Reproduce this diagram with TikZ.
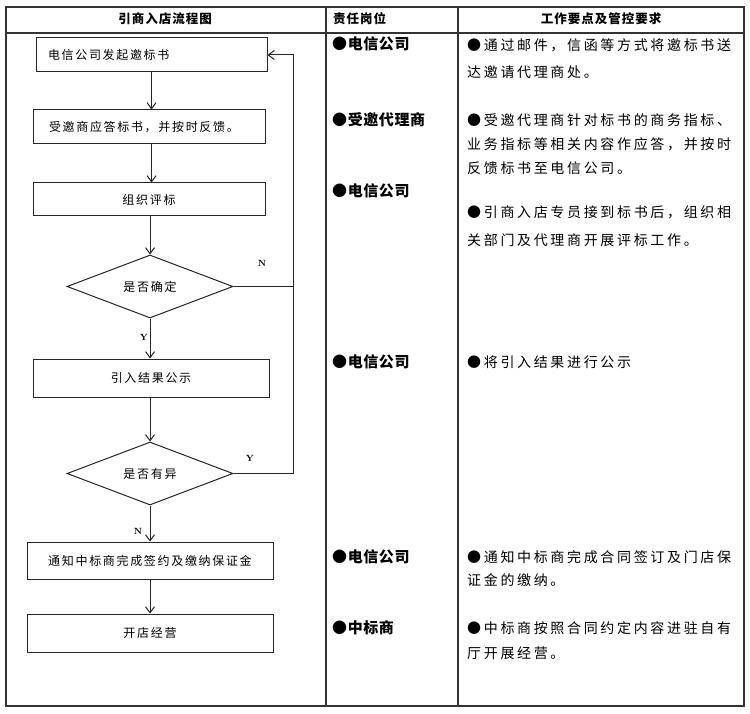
\documentclass[tikz,border=0pt]{standalone}
\usepackage{fontspec}
\usetikzlibrary{shapes.geometric,arrows.meta}
\newfontfamily\cjkflow{Noto Sans CJK SC}[LetterSpace=14]
\newfontfamily\cjkright{Noto Sans CJK SC}[LetterSpace=19]
\newfontfamily\cjkmid{Noto Sans CJK SC}[LetterSpace=4]
\newfontfamily\cjkhead{Noto Sans CJK SC}[LetterSpace=8]
\begin{document}
\begin{tikzpicture}[x=1pt,y=-1pt,
  tbl/.style={draw=black!80,line width=1.3pt},
  box/.style={draw=black!85,line width=1pt,rectangle,inner sep=0pt,
    font=\cjkflow\fontsize{12pt}{14pt}\selectfont},
  dec/.style={draw=black!85,line width=1pt,diamond,inner sep=0pt,aspect=2.6,
    font=\cjkflow\fontsize{12pt}{14pt}\selectfont},
  flow/.style={draw=black!85,line width=1pt,-{Straight Barb[length=6pt,width=9pt]}},
  fline/.style={draw=black!85,line width=1pt},
  yn/.style={font=\bfseries\fontsize{9pt}{10pt}\selectfont,inner sep=0pt},
  head/.style={font=\cjkhead\bfseries\fontsize{12.5pt}{14pt}\selectfont,inner sep=0pt},
  role/.style={anchor=west,inner sep=0pt,font=\cjkmid\bfseries\fontsize{15pt}{17pt}\selectfont},
  desc/.style={anchor=west,inner sep=0pt,font=\cjkright\fontsize{14pt}{16pt}\selectfont}]
\useasboundingbox (0,0) rectangle (750,714);
\fill[white] (0,0) rectangle (750,714);
% table
\draw[tbl] (6,7) rectangle (744,706);
\draw[tbl] (6,33) -- (744,33);
\draw[tbl] (326,7) -- (326,706);
\draw[tbl] (458,7) -- (458,706);
% header
\node[head] (h1) at (165,19) {引商入店流程图};
\node[head,anchor=west] (h2) at (333,19) {责任岗位};
\node[head] (h3) at (601,19) {工作要点及管控要求};
% flow boxes
\node[box,minimum width=231pt,minimum height=34pt,text width=207pt,align=left,inner xsep=12pt] (b1) at (151.5,55) {电信公司发起邀标书};
\node[box,minimum width=232pt,minimum height=34pt,text width=200pt,align=left,inner xsep=16pt] (b2) at (149,127) {受邀商应答标书，并按时反馈。};
\node[box,minimum width=232pt,minimum height=33pt] (b3) at (149,199.5) {组织评标};
\node[dec,minimum width=166pt,minimum height=63pt] (d1) at (150,286.5) {是否确定};
\node[box,minimum width=236pt,minimum height=38pt] (b4) at (151,378) {引入结果公示};
\node[dec,minimum width=166pt,minimum height=63pt] (d2) at (150,473.5) {是否有异};
\node[box,minimum width=246pt,minimum height=37pt] (b5) at (150,560.5) {通知中标商完成签约及缴纳保证金};
\node[box,minimum width=246pt,minimum height=38pt] (b6) at (150,633) {开店经营};
% feedback path
\coordinate (fb1) at (293,286.5);
\coordinate (fb2) at (293,473.5);
% connectors
\draw[flow] (b1.south) -- (b1.south |- b2.north);
\draw[flow] (b1.south |- b2.south) -- (b1.south |- b3.north);
\draw[flow] (d1.north |- b3.south) -- (d1.north);
\draw[flow] (d1.south) -- (d1.south |- b4.north);
\draw[flow] (d2.north |- b4.south) -- (d2.north);
\draw[flow] (d2.south) -- (d2.south |- b5.north);
\draw[flow] (b5.south) -- (b6.north);
\draw[fline] (d1.east) -- (fb1);
\draw[flow] (fb1) |- (b1.east);
\draw[fline] (d2.east) -- (fb2) -- (fb1);
% labels
\node[yn] (ln1) at (262,263) {N};
\node[yn] (ly1) at (144,337) {Y};
\node[yn] (ly2) at (250,458) {Y};
\node[yn] (ln2) at (138,531) {N};
% roles
\node[role] (r1) at (332,44) {●电信公司};
\node[role] (r2) at (332,120) {●受邀代理商};
\node[role] (r3) at (332,191) {●电信公司};
\node[role] (r4) at (332,362) {●电信公司};
\node[role] (r5) at (332,557) {●电信公司};
\node[role] (r6) at (332,628) {●中标商};
% descriptions
\node[desc] (t1) at (467,45) {●通过邮件，信函等方式将邀标书送};
\node[desc] (t2) at (467,72) {达邀请代理商处。};
\node[desc] (t3) at (467,120) {●受邀代理商针对标书的商务指标、};
\node[desc] (t4) at (467,144) {业务指标等相关内容作应答，并按时};
\node[desc] (t5) at (467,168) {反馈标书至电信公司。};
\node[desc] (t6) at (467,212) {●引商入店专员接到标书后，组织相};
\node[desc] (t7) at (467,240) {关部门及代理商开展评标工作。};
\node[desc] (t8) at (467,362) {●将引入结果进行公示};
\node[desc] (t9) at (467,557) {●通知中标商完成合同签订及门店保};
\node[desc] (t10) at (467,580) {证金的缴纳。};
\node[desc] (t11) at (467,628) {●中标商按照合同约定内容进驻自有};
\node[desc] (t12) at (467,653) {厅开展经营。};
\end{tikzpicture}
\end{document}
